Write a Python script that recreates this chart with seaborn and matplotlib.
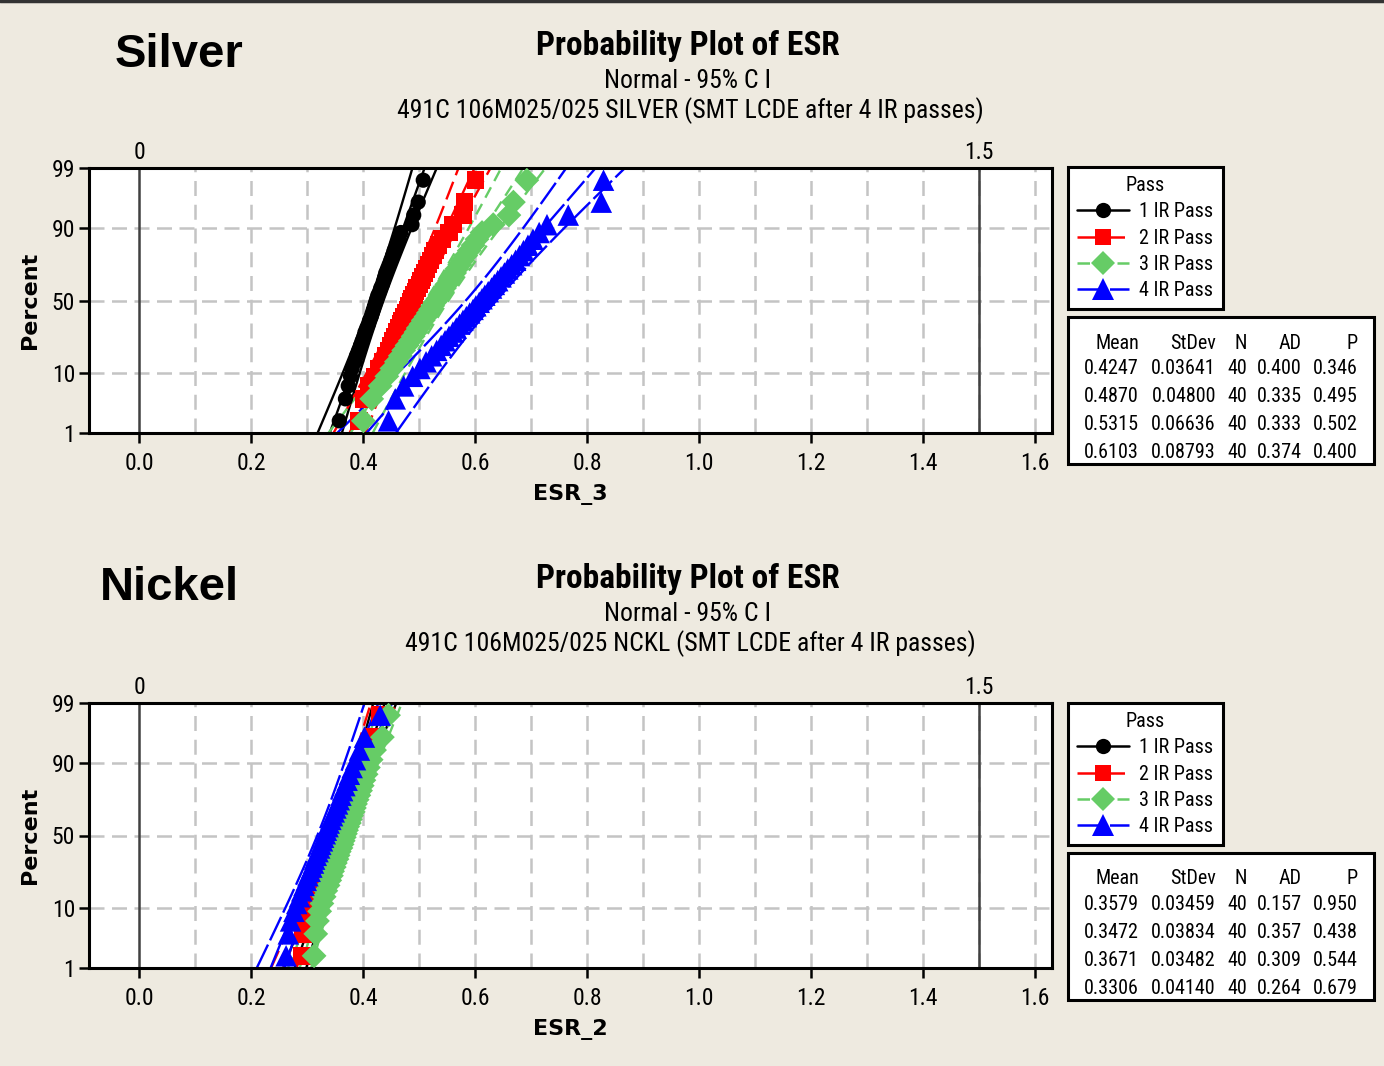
import numpy as np
import pandas as pd
import matplotlib
matplotlib.use("Agg")
import matplotlib.pyplot as plt
from matplotlib.lines import Line2D
from matplotlib.patches import Rectangle
from matplotlib import font_manager
import seaborn as sns
from statistics import NormalDist

# ---- data ----
passes = ["1 IR Pass", "2 IR Pass", "3 IR Pass", "4 IR Pass"]

silver_pass1 = [0.357, 0.368, 0.373, 0.377, 0.380, 0.385, 0.388, 0.392, 0.395, 0.398,
                0.401, 0.403, 0.406, 0.409, 0.411, 0.414, 0.416, 0.418, 0.420, 0.422,
                0.424, 0.426, 0.429, 0.431, 0.434, 0.436, 0.438, 0.440, 0.443, 0.446,
                0.449, 0.452, 0.455, 0.459, 0.464, 0.467, 0.487, 0.490, 0.498, 0.507]
silver_pass2 = [0.392, 0.400, 0.410, 0.420, 0.428, 0.434, 0.440, 0.445, 0.449, 0.453,
                0.457, 0.460, 0.463, 0.466, 0.469, 0.472, 0.476, 0.479, 0.482, 0.485,
                0.487, 0.490, 0.493, 0.496, 0.500, 0.503, 0.506, 0.509, 0.513, 0.516,
                0.520, 0.524, 0.528, 0.534, 0.541, 0.553, 0.560, 0.578, 0.581, 0.600]
silver_pass3 = [0.400, 0.415, 0.430, 0.442, 0.451, 0.459, 0.466, 0.472, 0.478, 0.484,
                0.489, 0.494, 0.498, 0.503, 0.507, 0.512, 0.516, 0.520, 0.524, 0.528,
                0.533, 0.537, 0.541, 0.545, 0.549, 0.554, 0.558, 0.563, 0.567, 0.572,
                0.577, 0.583, 0.589, 0.596, 0.603, 0.612, 0.632, 0.660, 0.668, 0.692]
silver_pass4 = [0.445, 0.457, 0.472, 0.488, 0.501, 0.512, 0.522, 0.531, 0.539, 0.546,
                0.553, 0.560, 0.566, 0.572, 0.578, 0.584, 0.590, 0.596, 0.601, 0.607,
                0.612, 0.617, 0.623, 0.629, 0.634, 0.640, 0.646, 0.652, 0.658, 0.665,
                0.672, 0.679, 0.686, 0.694, 0.703, 0.714, 0.728, 0.766, 0.825, 0.829]

nickel_pass1 = [0.290, 0.298, 0.306, 0.312, 0.317, 0.321, 0.324, 0.328, 0.331, 0.334,
                0.336, 0.339, 0.341, 0.344, 0.346, 0.348, 0.350, 0.352, 0.355, 0.357,
                0.359, 0.361, 0.363, 0.365, 0.368, 0.370, 0.372, 0.375, 0.377, 0.380,
                0.382, 0.385, 0.388, 0.391, 0.395, 0.399, 0.404, 0.410, 0.418, 0.431]
nickel_pass2 = [0.290, 0.292, 0.294, 0.297, 0.301, 0.305, 0.309, 0.313, 0.317, 0.320,
                0.323, 0.326, 0.329, 0.331, 0.334, 0.336, 0.339, 0.341, 0.344, 0.346,
                0.348, 0.351, 0.353, 0.356, 0.358, 0.361, 0.363, 0.366, 0.369, 0.371,
                0.374, 0.377, 0.381, 0.384, 0.388, 0.393, 0.400, 0.410, 0.418, 0.430]
nickel_pass3 = [0.312, 0.315, 0.318, 0.322, 0.326, 0.330, 0.333, 0.337, 0.340, 0.343,
                0.345, 0.348, 0.350, 0.353, 0.355, 0.357, 0.360, 0.362, 0.364, 0.366,
                0.368, 0.370, 0.372, 0.375, 0.377, 0.379, 0.382, 0.384, 0.386, 0.389,
                0.392, 0.395, 0.398, 0.401, 0.405, 0.409, 0.414, 0.420, 0.434, 0.445]
nickel_pass4 = [0.262, 0.266, 0.270, 0.276, 0.281, 0.286, 0.290, 0.294, 0.298, 0.301,
                0.305, 0.308, 0.311, 0.313, 0.316, 0.319, 0.322, 0.324, 0.327, 0.329,
                0.332, 0.334, 0.337, 0.339, 0.342, 0.345, 0.348, 0.351, 0.354, 0.357,
                0.360, 0.363, 0.367, 0.371, 0.375, 0.380, 0.386, 0.393, 0.402, 0.430]

# summary table printed next to each plot
silver_mean = [0.4247, 0.4870, 0.5315, 0.6103]
silver_sd = [0.03641, 0.04800, 0.06636, 0.08793]
silver_ad = [0.400, 0.335, 0.333, 0.374]
silver_p = [0.346, 0.495, 0.502, 0.400]

nickel_mean = [0.3579, 0.3472, 0.3671, 0.3306]
nickel_sd = [0.03459, 0.03834, 0.03482, 0.04140]
nickel_ad = [0.157, 0.357, 0.309, 0.264]
nickel_p = [0.950, 0.438, 0.544, 0.679]

pct_ticks = [1, 10, 50, 90, 99]
x_ticks = [0.0, 0.2, 0.4, 0.6, 0.8, 1.0, 1.2, 1.4, 1.6]
ref_lines = [0, 1.5]

# ---- styling ----
W, H = 1384, 1066
BG = "#EEEAE0"
colors = ["#000000", "#FF0000", "#66CC66", "#0000FF"]
markers = ["o", "s", "D", "^"]
msizes = [120, 160, 160, 240]
lstyles = ["-", (0, (8, 3)), (0, (5, 3)), (0, (11, 2))]

names = {f.name for f in font_manager.fontManager.ttflist}
NARROW = next((n for n in ["Roboto Condensed", "Archivo Narrow", "Liberation Sans Narrow",
                           "Arial Narrow", "PT Sans Narrow"]
               if n in names), "DejaVu Sans")

sns.set_style("white")
plt.rcParams["font.family"] = [NARROW, "DejaVu Sans"]
plt.rcParams.update({"text.color": "black", "axes.labelcolor": "black",
                     "xtick.color": "black", "ytick.color": "black"})

ND = NormalDist()
z_lo, z_hi = ND.inv_cdf(0.01), ND.inv_cdf(0.99)


def fx(px):
    return px / W


def fy(py):
    return 1 - py / H


def prob_panel(ax, samples, means, sds, xlabel):
    frames = []
    for name, vals in zip(passes, samples):
        v = np.sort(np.asarray(vals))
        n = len(v)
        ranks = (np.arange(1, n + 1) - 0.3) / (n + 0.4)
        frames.append(pd.DataFrame({"ESR": v, "z": [ND.inv_cdf(q) for q in ranks], "Pass": name}))
    df = pd.concat(frames, ignore_index=True)

    # grid + reference lines
    for gx in np.arange(0.1, 1.65, 0.1):
        ax.axvline(gx, color="#C4C4C4", lw=1.8, ls=(0, (6, 3.5)), zorder=0)
    for p in [10, 50, 90]:
        ax.axhline(ND.inv_cdf(p / 100), color="#C4C4C4", lw=1.8, ls=(0, (6, 3)), zorder=0)
    for r in ref_lines:
        ax.axvline(r, color="#404040", lw=1.8, zorder=1)

    # fitted line with 95% CI bands
    zz = np.linspace(z_lo, z_hi, 60)
    for m, s, c, ls, vals in zip(means, sds, colors, lstyles, samples):
        n = len(vals)
        half = 1.96 * s * np.sqrt(1 / n + zz ** 2 / (2 * n))
        for off in (-half, 0 * half, half):
            ax.plot(m + s * zz + off, zz, color=c, lw=1.7, ls=ls, zorder=2)

    sns.scatterplot(data=df, x="ESR", y="z", hue="Pass", style="Pass", size="Pass",
                    palette=dict(zip(passes, colors)), markers=dict(zip(passes, markers)),
                    sizes=dict(zip(passes, msizes)), linewidth=0, legend=False,
                    ax=ax, zorder=3)

    ax.set_xlim(-0.09, 1.63)
    ax.set_ylim(z_lo, z_hi)
    ax.set_yticks([ND.inv_cdf(p / 100) for p in pct_ticks], labels=[str(p) for p in pct_ticks])
    ax.set_xticks(x_ticks, labels=[f"{t:.1f}" for t in x_ticks])
    ax.tick_params(axis="both", which="major", direction="out", length=7, width=1.8,
                   labelsize=17, colors="black")
    ax.tick_params(axis="x", pad=7, bottom=True)
    ax.tick_params(axis="y", pad=3, left=True)
    for sp in ax.spines.values():
        sp.set_linewidth(2.2)
        sp.set_color("black")
    ax.set_facecolor("white")
    ax.set_xlabel(xlabel, fontsize=16, fontweight="bold", family="DejaVu Sans", labelpad=6)
    ax.set_ylabel("Percent", fontsize=16, fontweight="bold", family="DejaVu Sans", labelpad=8)

    top = ax.secondary_xaxis("top")
    top.set_xticks(ref_lines, labels=["0", "1.5"])
    top.tick_params(length=0, labelsize=17, pad=3)
    top.spines["top"].set_visible(False)


def side_boxes(fig, top_px, means, sds, ads, ps):
    handles = [Line2D([], [], color=c, ls=ls, lw=1.8, marker=mk, markersize=ms, markeredgewidth=0)
               for c, ls, mk, ms in zip(colors, lstyles, markers, [11, 11, 12, 16])]
    leg = fig.legend(handles, passes, title="Pass", loc="upper left",
                     bbox_to_anchor=(fx(1068), fy(top_px)), fontsize=14.5, title_fontsize=14.5,
                     frameon=True, fancybox=False, edgecolor="black", framealpha=1,
                     handlelength=2.6, handletextpad=0.5, labelspacing=0.36,
                     borderpad=0.45, borderaxespad=0)
    leg.get_frame().set_linewidth(2.2)

    y0 = top_px + 150
    fig.add_artist(Rectangle((fx(1068), fy(y0 + 147)), fx(306), 147 / H,
                             transform=fig.transFigure, facecolor="white",
                             edgecolor="black", lw=2.2))
    col_x = [1139, 1216, 1247, 1302, 1358]
    header = ["Mean", "StDev", "N", "AD", "P"]
    for x, h in zip(col_x, header):
        fig.text(fx(x), fy(y0 + 26), h, ha="right", va="center", fontsize=14.5)
    for i, (m, s, a, p) in enumerate(zip(means, sds, ads, ps)):
        row = [f"{m:.4f}", f"{s:.5f}", "40", f"{a:.3f}", f"{p:.3f}"]
        yy = y0 + 51 + 28 * i
        for x, t in zip(col_x, row):
            fig.text(fx(x), fy(yy), t, ha="right", va="center", fontsize=14.5)


fig = plt.figure(figsize=(W / 100, H / 100), dpi=100, facecolor=BG)

ax_s = fig.add_axes([fx(89), fy(433), fx(963), 265 / H])
ax_n = fig.add_axes([fx(89), fy(968), fx(963), 265 / H])

prob_panel(ax_s, [silver_pass1, silver_pass2, silver_pass3, silver_pass4],
           silver_mean, silver_sd, "ESR_3")
prob_panel(ax_n, [nickel_pass1, nickel_pass2, nickel_pass3, nickel_pass4],
           nickel_mean, nickel_sd, "ESR_2")

side_boxes(fig, 167, silver_mean, silver_sd, silver_ad, silver_p)
side_boxes(fig, 703, nickel_mean, nickel_sd, nickel_ad, nickel_p)

# titles
for dy, metal, sub in [(0, "Silver", "491C 106M025/025 SILVER (SMT LCDE after 4 IR passes)"),
                       (533, "Nickel", "491C 106M025/025 NCKL (SMT LCDE after 4 IR passes)")]:
    fig.text(fx(688), fy(46 + dy), "Probability Plot of ESR", ha="center", va="center",
             fontsize=24, fontweight="bold")
    fig.text(fx(688), fy(81 + dy), "Normal - 95% C I", ha="center", va="center", fontsize=18.5)
    fig.text(fx(690), fy(111 + dy), sub, ha="center", va="center", fontsize=18.5)
    fig.text(fx(115 if metal == "Silver" else 100), fy(55 + dy), metal, ha="left", va="center",
             fontsize=34, fontweight="bold", family="Liberation Sans", color="black")

# dark border along the top edge of the capture
fig.add_artist(Line2D([0, 1], [1 - 1 / H, 1 - 1 / H], transform=fig.transFigure,
                      color="#333333", lw=2.5))

fig.savefig("out.png", dpi=100, facecolor=BG)
